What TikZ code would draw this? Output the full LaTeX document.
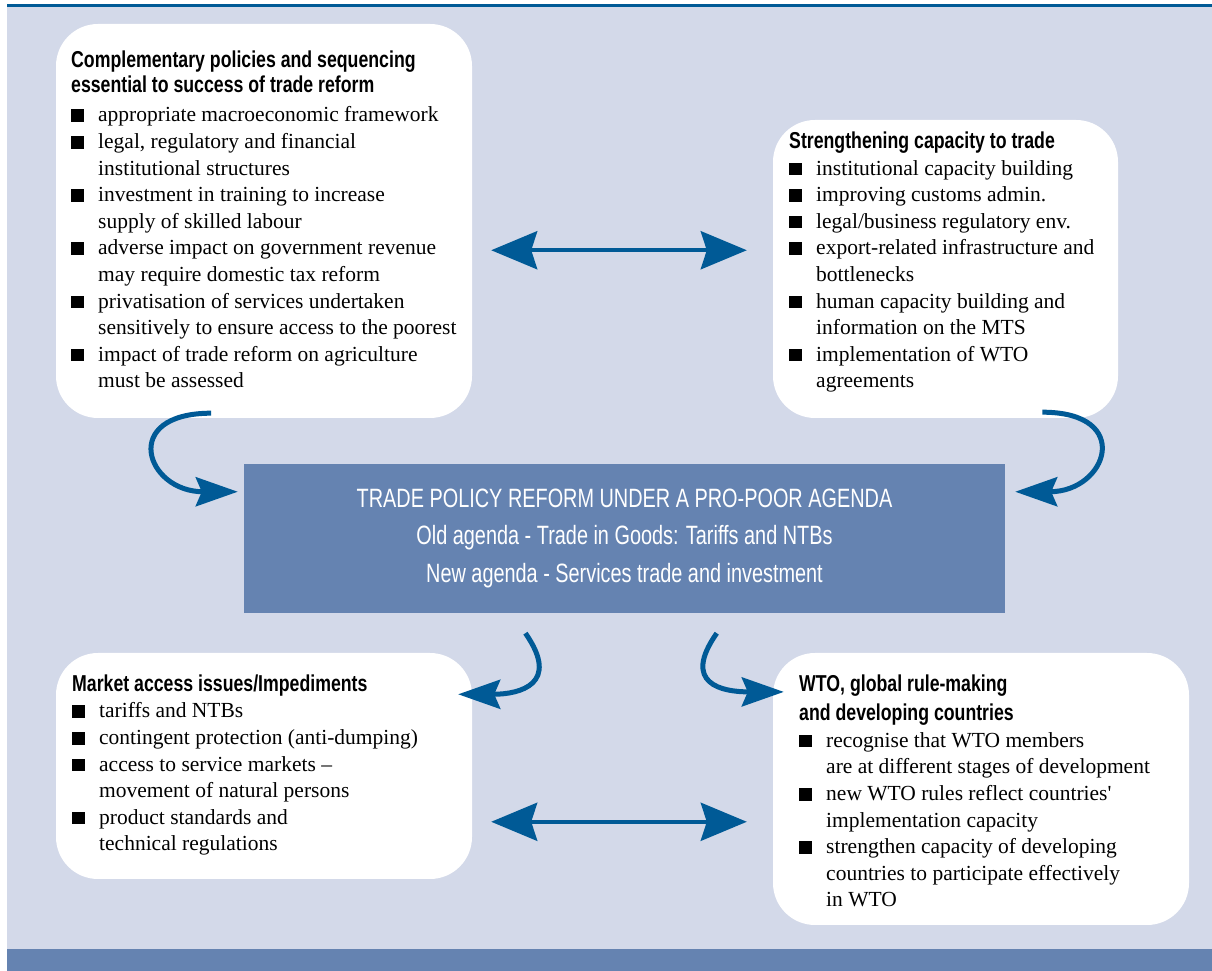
\documentclass[tikz,border=0pt]{standalone}
\usepackage{fontspec}
\setmainfont{Liberation Serif}
\newfontfamily\hdfont[FakeStretch=0.77]{Liberation Sans}
\newfontfamily\ctfont[FakeStretch=0.75]{Liberation Sans}
\usetikzlibrary{arrows.meta}

\definecolor{bgblue}{HTML}{D3D9E9}
\definecolor{midblue}{HTML}{6583B1}
\definecolor{arrblue}{HTML}{005A96}

% bullet square and the indent of a wrapped line
\newcommand{\bl}{\makebox[27pt][l]{\rule{12.5pt}{12.5pt}}}
\newcommand{\ind}{\hspace*{27pt}}

% text nodes sit on the baseline of their last line
\tikzset{
  panel/.style={fill=white, rounded corners=42pt, inner sep=0pt},
  hd/.style={anchor=base west, inner sep=0pt, align=left, font=\hdfont\bfseries\fontsize{23}{25}\selectfont},
  body/.style={anchor=base west, inner sep=0pt, align=left, font=\fontsize{21.5}{26.6}\selectfont},
  dblarrow/.style={draw=arrblue, line width=4pt, {Stealth[length=46pt,width=38pt,inset=6pt]}-{Stealth[length=46pt,width=38pt,inset=6pt]}},
  bendarrow/.style={draw=arrblue, line width=5pt, -{Stealth[length=42pt,width=29pt,inset=6pt]}},
}

\begin{document}
\begin{tikzpicture}[x=1pt,y=1pt]
\useasboundingbox (0,0) rectangle (1212,971);

% page background, rule on top and bar below
\fill[white] (0,0) rectangle (1212,971);
\fill[bgblue] (7,22) rectangle (1212,964);
\fill[midblue] (7,0) rectangle (1212,22);
\fill[arrblue] (7,964) rectangle (1212,966.5);

%Rounded Rect
\node[panel, minimum width=416pt, minimum height=394pt] (cpol) at (264,750) {};
%Rounded Rect
\node[panel, minimum width=345pt, minimum height=298pt] (scap) at (945.5,702) {};
%Rounded Rect
\node[panel, minimum width=416pt, minimum height=226pt] (mkt) at (264,205) {};
%Rounded Rect
\node[panel, minimum width=416pt, minimum height=272pt] (wto) at (981,182) {};

% centre block
\node[fill=midblue, minimum width=761pt, minimum height=149pt, inner sep=0pt, align=center,
      text=white, font=\ctfont\fontsize{26.5}{37.5}\selectfont] (trade) at (624.5,432.5)
  {TRADE POLICY REFORM UNDER A PRO-POOR AGENDA\\
   Old agenda - Trade in Goods: Tariffs and NTBs\\
   New agenda - Services trade and investment};

% Text Node
\node[hd] (cpolhd) at (71,878) {Complementary policies and sequencing\\essential to success of trade reform};
% Text Node
\node[body] (cpoltxt) at (71,583) {\bl appropriate macroeconomic framework\\
\bl legal, regulatory and financial\\
\ind institutional structures\\
\bl investment in training to increase\\
\ind supply of skilled labour\\
\bl adverse impact on government revenue\\
\ind may require domestic tax reform\\
\bl privatisation of services undertaken\\
\ind sensitively to ensure access to the poorest\\
\bl impact of trade reform on agriculture\\
\ind must be assessed};

% Text Node
\node[hd] (scaphd) at (789,822) {Strengthening capacity to trade};
% Text Node
\node[body] (scaptxt) at (789,583) {\bl institutional capacity building\\
\bl improving customs admin.\\
\bl legal/business regulatory env.\\
\bl export-related infrastructure and\\
\ind bottlenecks\\
\bl human capacity building and\\
\ind information on the MTS\\
\bl implementation of WTO\\
\ind agreements};

% Text Node
\node[hd] (mkthd) at (72,279) {Market access issues/Impediments};
% Text Node
\node[body] (mkttxt) at (72,120) {\bl tariffs and NTBs\\
\bl contingent protection (anti-dumping)\\
\bl access to service markets --\\
\ind movement of natural persons\\
\bl product standards and\\
\ind technical regulations};

% Text Node
\node[hd, font=\hdfont\bfseries\fontsize{23}{29}\selectfont] (wtohd) at (799,250) {WTO, global rule-making\\and developing countries};
% Text Node
\node[body] (wtotxt) at (799,64) {\bl recognise that WTO members\\
\ind are at different stages of development\\
\bl new WTO rules reflect countries\textquotesingle\\
\ind implementation capacity\\
\bl strengthen capacity of developing\\
\ind countries to participate effectively\\
\ind in WTO};

%Straight Lines
\draw[dblarrow, shorten <=19pt, shorten >=26pt] (cpol.352) -- (cpol.352 -| scap.west);
\draw[dblarrow, shorten <=19pt, shorten >=26pt] (mkt.345) -- (mkt.345 -| wto.west);

%Curve Lines
\draw[bendarrow] ([yshift=5pt]cpol.255) to[out=180, in=180, distance=92pt] ([xshift=-6pt]trade.173);
\draw[bendarrow] ([yshift=6pt]scap.303) to[out=0, in=0, distance=92pt] ([xshift=10pt]trade.7);
\draw[bendarrow] ([yshift=-20pt]trade.217) to[out=-55, in=0, distance=62pt] ([xshift=-14pt]mkt.19);
\draw[bendarrow] ([yshift=-20pt]trade.321) to[out=-125, in=180, distance=62pt] ([xshift=11pt]wto.155);
\end{tikzpicture}
\end{document}
